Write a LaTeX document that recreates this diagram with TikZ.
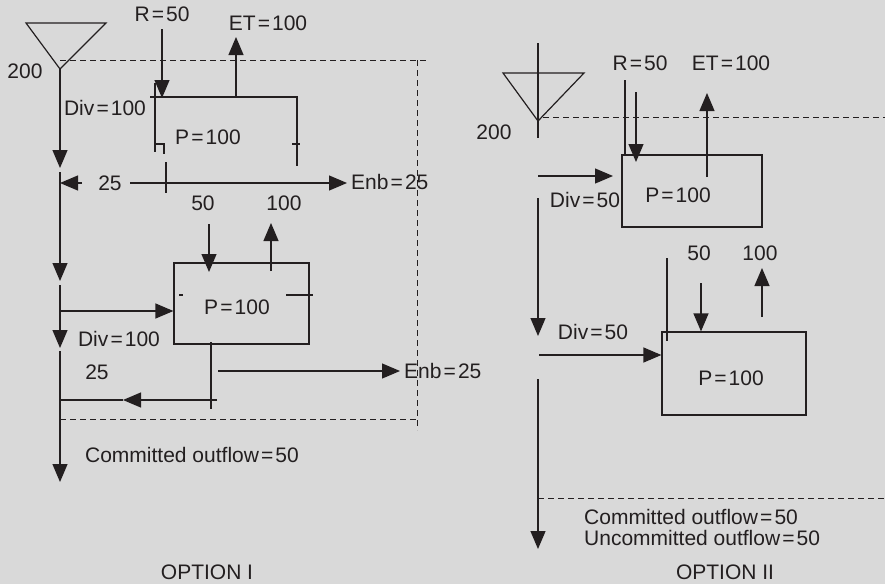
\documentclass[tikz,border=0pt]{standalone}
\usepackage{fontspec}
\setmainfont{Liberation Sans}
\usetikzlibrary{arrows.meta}
\definecolor{bg}{HTML}{D9D9D9}
\definecolor{ink}{HTML}{231F20}
\newcommand{\eqs}{\kern0.1em=\kern0.1em}
\begin{document}
\begin{tikzpicture}[x=1pt,y=-1pt,
  ln/.style={line width=1.2pt, draw=ink},
  arr/.style={ln, -{Triangle[length=18pt,width=15pt]}},
  dsh/.style={line width=1pt, draw=ink, dash pattern=on 6pt off 4pt},
  lbl/.style={text=ink, font=\fontsize{21}{24}\selectfont, inner sep=0pt},
  boxst/.style={ln, rectangle, inner sep=0pt}]
\fill[bg] (0,0) rectangle (885,584);
\useasboundingbox (0,0) rectangle (885,584);

% ================= OPTION I =================
\coordinate (tA) at (26,23); \coordinate (tB) at (106,23); \coordinate (tC) at (60,69);
\draw[ln, line join=miter] (tA) -- (tB) -- (tC) -- cycle;
\node[lbl] (l200a) at (25,71) {200};

% main stream
\coordinate (m1) at (60,168); \coordinate (m2) at (60,172); \coordinate (m3) at (60,281);
\coordinate (m4) at (60,285); \coordinate (m5) at (60,348); \coordinate (m6) at (60,351);
\coordinate (m7) at (60,482);
\draw[arr] (tC) -- (m1);
\draw[arr] (m2) -- (m3);
\draw[arr] (m4) -- (m5);
\draw[arr] (m6) -- (m7);

% dashed boundary
\coordinate (d1) at (60,60); \coordinate (d2) at (427,60); \coordinate (d3) at (417,60);
\coordinate (d4) at (417,430); \coordinate (d5) at (60,419); \coordinate (d6) at (417,419);
\draw[dsh] (d1) -- (d2);
\draw[dsh] (d3) -- (d4);
\draw[dsh] (d5) -- (d6);

% upper plot
\node[lbl] (r1) at (162,14) {R\eqs 50};
\coordinate (r1a) at (162,29); \coordinate (r1b) at (162,98);
\draw[arr] (r1a) -- (r1b);
\node[lbl] (et1) at (268,23) {ET\eqs 100};
\coordinate (et1a) at (236,97); \coordinate (et1b) at (236,37);
\draw[arr] (et1a) -- (et1b);
\coordinate (p1a) at (150,97); \coordinate (p1b) at (297,97); \coordinate (p1c) at (297,166);
\draw[ln] (p1a) -- (p1b) -- (p1c);
\coordinate (p1t1) at (292,144); \coordinate (p1t2) at (300,144);
\draw[ln] (p1t1) -- (p1t2);
\coordinate (p1l1) at (155,83); \coordinate (p1l2) at (155,152);
\draw[ln, line width=2pt] (p1l1) -- (p1l2);
\coordinate (p1s1) at (155,144); \coordinate (p1s2) at (164,144); \coordinate (p1s3) at (164,154);
\draw[ln] (p1s1) -- (p1s2) -- (p1s3);
\coordinate (p1v1) at (166,162); \coordinate (p1v2) at (166,193);
\draw[ln] (p1v1) -- (p1v2);
\node[lbl] (div1) at (105,108) {Div\eqs 100};
\node[lbl] (pp1) at (208,137) {P\eqs 100};

% drainage row 1
\coordinate (h1a) at (82,183); \coordinate (h1b) at (130,183); \coordinate (h1c) at (347,183);
\draw[arr] (h1a) -- (m1 |- h1a);
\node[lbl] (q25a) at (110,183) {25};
\draw[arr] (h1b) -- (h1c);
\node[lbl, anchor=west] (enb1) at (351,182) {Enb\eqs 25};

% lower plot
\node[boxst, minimum width=135pt, minimum height=81pt] (b2) at (241.5,303.5) {};
\node[lbl] (pp2) at (237,307) {P\eqs 100};
\coordinate (b2t1) at (179,295); \coordinate (b2t2) at (183,295);
\coordinate (b2t3) at (286,295); \coordinate (b2t4) at (313,295);
\draw[ln] (b2t1) -- (b2t2);
\draw[ln] (b2t3) -- (b2t4);
\node[lbl] (r2) at (203,203) {50};
\node[lbl] (et2) at (284,203) {100};
\coordinate (r2a) at (209,224); \coordinate (r2b) at (209,272);
\draw[arr] (r2a) -- (r2b);
\coordinate (et2a) at (271,271); \coordinate (et2b) at (271,223);
\draw[arr] (et2a) -- (et2b);
\coordinate (dv2) at (60,311);
\draw[arr] (dv2) -- (b2.west |- dv2);
\node[lbl] (div2) at (119,339) {Div\eqs 100};
\node[lbl] (q25b) at (97,372) {25};
\coordinate (v2a) at (211,342); \coordinate (v2b) at (211,409);
\draw[ln] (v2a) -- (v2b);
\coordinate (h2a) at (218,371); \coordinate (h2b) at (400,371);
\draw[arr] (h2a) -- (h2b);
\node[lbl, anchor=west] (enb2) at (404,371) {Enb\eqs 25};
\coordinate (rt1) at (217,400); \coordinate (rt2) at (123,400); \coordinate (rt3) at (60,400);
\draw[arr] (rt1) -- (rt2);
\draw[ln] (rt2) -- (rt3);
\node[lbl] (co1) at (192,455) {Committed outflow\eqs 50};
\node[lbl] (opt1) at (207,572) {OPTION I};

% ================= OPTION II =================
\coordinate (s0) at (538,43); \coordinate (s1) at (538,138);
\draw[ln] (s0) -- (s1);
\coordinate (uA) at (503,73); \coordinate (uB) at (584,73); \coordinate (uC) at (538,121);
\draw[ln, line join=miter] (uA) -- (uB) -- (uC) -- cycle;
\coordinate (e1) at (543,117); \coordinate (e2) at (885,117);
\draw[dsh] (e1) -- (e2);
\node[lbl] (l200b) at (494,132) {200};

\node[boxst, minimum width=140pt, minimum height=72pt] (b3) at (692,191) {};
\node[lbl] (pp3) at (678,195) {P\eqs 100};
\coordinate (w1) at (625,80); \coordinate (w2) at (625,154);
\draw[ln] (w1) -- (w2);
\node[lbl] (r3) at (640,63) {R\eqs 50};
\node[lbl] (et3) at (731,63) {ET\eqs 100};
\coordinate (r3a) at (636,92); \coordinate (r3b) at (636,162);
\draw[arr] (r3a) -- (r3b);
\coordinate (et3a) at (707,177); \coordinate (et3b) at (707,93);
\draw[arr] (et3a) -- (et3b);
\coordinate (dv3) at (538,176); \coordinate (dv3b) at (613,176);
\draw[arr] (dv3) -- (dv3b);
\node[lbl] (div3) at (585,200) {Div\eqs 50};

\coordinate (s2) at (538,198); \coordinate (s3) at (538,336);
\draw[arr] (s2) -- (s3);
\node[lbl] (div4) at (593,332) {Div\eqs 50};

\node[boxst, minimum width=144pt, minimum height=83pt] (b4) at (734,373.5) {};
\node[lbl] (pp4) at (731,378) {P\eqs 100};
\coordinate (dv4) at (539,355);
\draw[arr] (dv4) -- (b4.west |- dv4);
\coordinate (w3) at (667,258); \coordinate (w4) at (667,341);
\draw[ln] (w3) -- (w4);
\node[lbl] (r4) at (699,253) {50};
\node[lbl] (et4) at (760,253) {100};
\coordinate (r4a) at (701,283);
\draw[arr] (r4a) -- (r4a |- b4.north);
\coordinate (et4a) at (762,317); \coordinate (et4b) at (762,268);
\draw[arr] (et4a) -- (et4b);

\coordinate (s4) at (538,379); \coordinate (s5) at (538,549);
\draw[arr] (s4) -- (s5);
\coordinate (f1) at (538,498); \coordinate (f2) at (885,498);
\draw[dsh] (f1) -- (f2);
\node[lbl, anchor=west] (co2) at (584,517) {Committed outflow\eqs 50};
\node[lbl, anchor=west] (uo2) at (584,538) {Uncommitted outflow\eqs 50};
\node[lbl] (opt2) at (725,572) {OPTION II};
\end{tikzpicture}
\end{document}
